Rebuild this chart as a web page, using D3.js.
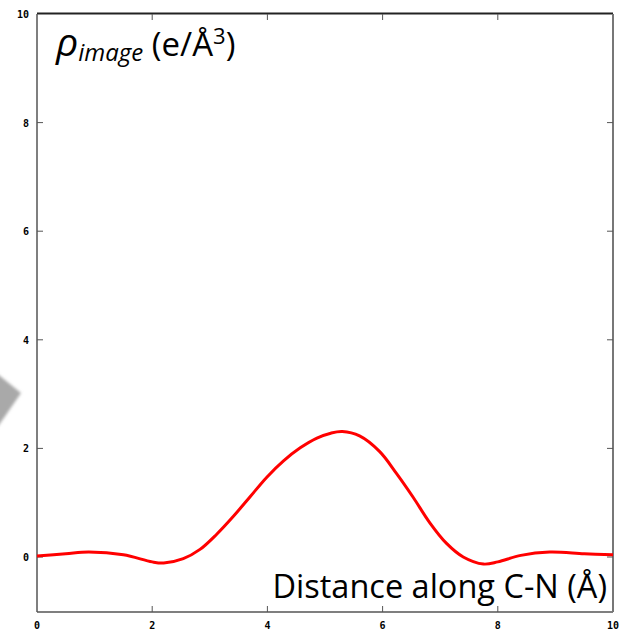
<!DOCTYPE html>
<html><head><meta charset="utf-8">
<script src="https://cdn.jsdelivr.net/npm/d3@7"></script>
<style>body{margin:0;background:#fff}svg{display:block}</style>
</head><body>
<script>
const xTicks = [0, 2, 4, 6, 8, 10];
const yTicks = [0, 2, 4, 6, 8, 10];
const distance = [0, 0.5, 0.9, 1.5, 2.0, 2.2, 2.54, 2.83, 3.12, 3.41, 3.70, 3.99, 4.28, 4.57, 4.86, 5.1, 5.3, 5.6, 5.95, 6.24, 6.53, 6.82, 7.11, 7.40, 7.75, 8.0, 8.4, 8.9, 9.5, 10];
const density  = [0.02, 0.06, 0.09, 0.04, -0.09, -0.11, -0.03, 0.14, 0.42, 0.75, 1.11, 1.47, 1.77, 2.01, 2.19, 2.28, 2.31, 2.23, 1.94, 1.54, 1.10, 0.63, 0.25, 0.0, -0.13, -0.09, 0.03, 0.09, 0.06, 0.04];

const W = 625, H = 634;
const L = 37, R = 613, T = 14, B = 612;
const svg = d3.select("body").append("svg").attr("width", W).attr("height", H);

const defs = svg.append("defs");
defs.append("filter").attr("id","blur").append("feGaussianBlur").attr("stdDeviation", 1.5);

// decorative gray arrow tip at the left edge
svg.append("path").attr("d","M-10,368 L21,393 L-10,438 Z").attr("fill","#a9a9a9").attr("filter","url(#blur)");

const x = d3.scaleLinear().domain([0, 10]).range([L, R]);
const y = d3.scaleLinear().domain([0, 10]).range([557, 14]);

const tickColor = "#555";
const g = svg.append("g");
// frame
g.append("line").attr("x1",L).attr("x2",R).attr("y1",T-0.5).attr("y2",T-0.5).attr("stroke","#222").attr("stroke-width",1.8);
g.append("line").attr("x1",L).attr("x2",R).attr("y1",B).attr("y2",B).attr("stroke","#555").attr("stroke-width",1.5);
g.append("line").attr("x1",L).attr("x2",L).attr("y1",T).attr("y2",B).attr("stroke","#555").attr("stroke-width",1.5);
g.append("line").attr("x1",R).attr("x2",R).attr("y1",T).attr("y2",B).attr("stroke","#777").attr("stroke-width",2);

// ticks (inside, mirrored)
xTicks.forEach(v => {
  if (v > 0 && v < 10) {
    g.append("line").attr("x1",x(v)).attr("x2",x(v)).attr("y1",B).attr("y2",B-6).attr("stroke",tickColor).attr("stroke-width",1);
    g.append("line").attr("x1",x(v)).attr("x2",x(v)).attr("y1",T).attr("y2",T+6).attr("stroke",tickColor).attr("stroke-width",1);
  }
  g.append("text").attr("x",x(v)).attr("y",629).attr("text-anchor","middle")
    .attr("font-family","DejaVu Sans Mono").attr("font-weight","bold").attr("font-size",10).text(v);
});
yTicks.forEach(v => {
  if (v < 10) {
    g.append("line").attr("x1",L).attr("x2",L+6).attr("y1",y(v)).attr("y2",y(v)).attr("stroke",tickColor).attr("stroke-width",1);
    g.append("line").attr("x1",R).attr("x2",R-6).attr("y1",y(v)).attr("y2",y(v)).attr("stroke",tickColor).attr("stroke-width",1);
  }
  g.append("text").attr("x",29).attr("y",y(v)+4).attr("text-anchor","end")
    .attr("font-family","DejaVu Sans Mono").attr("font-weight","bold").attr("font-size",10).text(v);
});

// curve
const pts = distance.map((d,i)=>[d, density[i]]);
svg.append("path").datum(pts)
  .attr("d", d3.line().x(d=>x(d[0])).y(d=>y(d[1])).curve(d3.curveCatmullRom.alpha(0.5)))
  .attr("fill","none").attr("stroke","#ff0000").attr("stroke-width",3).attr("stroke-linejoin","round");

// title
const t = svg.append("text").attr("x",56).attr("y",56).attr("font-family","Open Sans").attr("font-size",33).attr("fill","#000");
t.append("tspan").attr("font-style","italic").attr("font-size",39).text("ρ");
t.append("tspan").attr("font-style","italic").attr("font-size",24).attr("dy",5).text("image");
t.append("tspan").attr("dy",-5).text(" (e/Å");
t.append("tspan").attr("font-size",22).attr("dy",-12).text("3");
t.append("tspan").attr("dy",12).text(")");

// x label
svg.append("text").attr("x",607).attr("y",598).attr("text-anchor","end")
  .attr("font-family","Open Sans").attr("font-size",32.5).attr("fill","#000")
  .text("Distance along C-N (Å)");
</script>
</body></html>
